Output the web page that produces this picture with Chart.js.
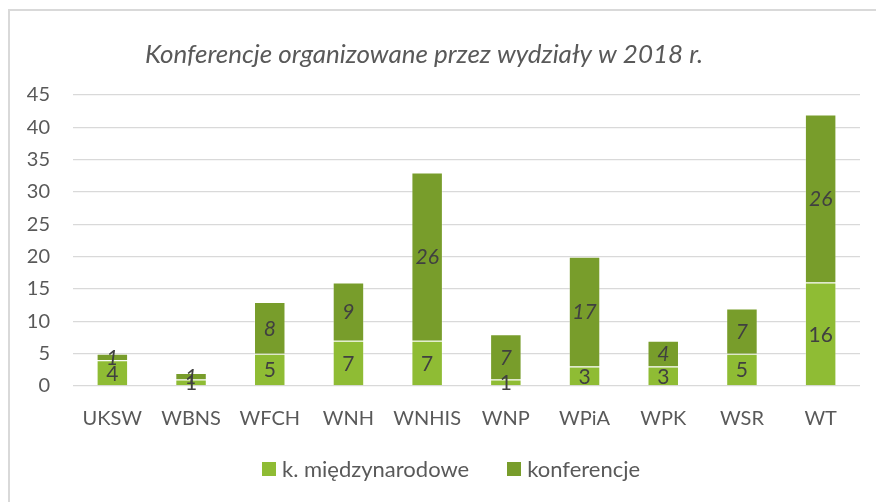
<!DOCTYPE html>
<html>
<head>
<meta charset="utf-8">
<script src="https://cdn.jsdelivr.net/npm/chart.js@4"></script>
<style>
  html, body { margin: 0; padding: 0; background: #fff; }
  body { width: 876px; height: 502px; position: relative; overflow: hidden; font-family: Lato, 'Open Sans', sans-serif; }
  .box {
    position: absolute; left: 8px; top: 9px; width: 880px; height: 500px;
    border: 2px solid #d9d9d9; box-sizing: border-box;
  }
  .wrap { position: absolute; left: 9px; top: 10px; width: 867px; height: 492px; }
  .legend { position: absolute; left: 262px; top: 456px; display: flex; align-items: center; color: #595959; font-size: 22px; line-height: 26px; }
  .legend span.sq { display: inline-block; width: 14px; height: 14px; margin-right: 6px; }
  .legend .item { display: flex; align-items: center; margin-right: 38px; }
</style>
</head>
<body>
<div class="box"></div>
<div class="wrap"><canvas id="chart"></canvas></div>
<div class="legend" id="legend"></div>
<script>
// dane z wykresu
const categories = ["UKSW", "WBNS", "WFCH", "WNH", "WNHIS", "WNP", "WPiA", "WPK", "WSR", "WT"];
const miedzynarodowe = [4, 1, 5, 7, 7, 1, 3, 3, 5, 16];
const konferencje = [1, 1, 8, 9, 26, 7, 17, 4, 7, 26];
const yTicks = [0, 5, 10, 15, 20, 25, 30, 35, 40, 45];
const seriesNames = ["k. międzynarodowe", "konferencje"];
const seriesColors = ["#8fbc34", "#789d2b"];
const chartTitle = "Konferencje organizowane przez wydziały w 2018 r.";

const FONT = "Lato, 'Open Sans', sans-serif";

// tytul rysowany recznie (troche w lewo od srodka jak w oryginale)
const titlePlugin = {
  id: "titleLeft",
  afterDraw(chart) {
    const ctx = chart.ctx;
    ctx.save();
    ctx.fillStyle = "#595959";
    ctx.font = "italic 26px " + FONT;
    ctx.textAlign = "center";
    ctx.textBaseline = "middle";
    ctx.fillText(chartTitle, 415, 45);
    ctx.restore();
  }
};

// etykiety wartosci na srodku slupkow
const barLabels = {
  id: "barLabels",
  afterDatasetsDraw(chart) {
    const ctx = chart.ctx;
    chart.data.datasets.forEach((ds, i) => {
      const meta = chart.getDatasetMeta(i);
      meta.data.forEach((bar, j) => {
        const y = (bar.y + bar.base) / 2;
        ctx.save();
        ctx.fillStyle = "#404040";
        ctx.font = (i === 1 ? "italic " : "") + "21px " + FONT;
        ctx.textAlign = "center";
        ctx.textBaseline = "middle";
        ctx.fillText(ds.data[j], bar.x, y + 1);
        ctx.restore();
      });
    });
  }
};

new Chart(document.getElementById("chart"), {
  type: "bar",
  data: {
    labels: categories,
    datasets: [
      {
        label: seriesNames[0],
        data: miedzynarodowe,
        backgroundColor: seriesColors[0],
        borderColor: "rgba(255,255,255,0.3)",
        borderWidth: 1,
        barPercentage: 0.4,
        categoryPercentage: 1
      },
      {
        label: seriesNames[1],
        data: konferencje,
        backgroundColor: seriesColors[1],
        borderColor: "rgba(255,255,255,0.3)",
        borderWidth: 1,
        barPercentage: 0.4,
        categoryPercentage: 1
      }
    ]
  },
  options: {
    responsive: true,
    maintainAspectRatio: false,
    animation: false,
    layout: { padding: { top: 85, right: 16, bottom: 50, left: 0 } },
    plugins: {
      title: { display: false },
      legend: { display: false },
      tooltip: { enabled: false }
    },
    scales: {
      x: {
        stacked: true,
        grid: { display: false, drawTicks: false },
        border: { display: false },
        ticks: { color: "#595959", font: { family: FONT, size: 20 }, padding: 21, maxRotation: 0 }
      },
      y: {
        stacked: true,
        min: 0,
        max: 45,
        afterBuildTicks(axis) {
          axis.ticks = yTicks.map(v => ({ value: v }));
        },
        afterFit(axis) { axis.width = 64; },
        grid: { color: "#d9d9d9", lineWidth: 1.3, drawTicks: false },
        border: { display: false },
        ticks: { color: "#595959", font: { family: FONT, size: 20 }, padding: 23 }
      }
    }
  },
  plugins: [barLabels, titlePlugin]
});

// legenda w HTML
const legend = document.getElementById("legend");
seriesNames.forEach((name, i) => {
  const item = document.createElement("div");
  item.className = "item";
  const sq = document.createElement("span");
  sq.className = "sq";
  sq.style.background = seriesColors[i];
  item.appendChild(sq);
  item.appendChild(document.createTextNode(name));
  legend.appendChild(item);
});
</script>
</body>
</html>
